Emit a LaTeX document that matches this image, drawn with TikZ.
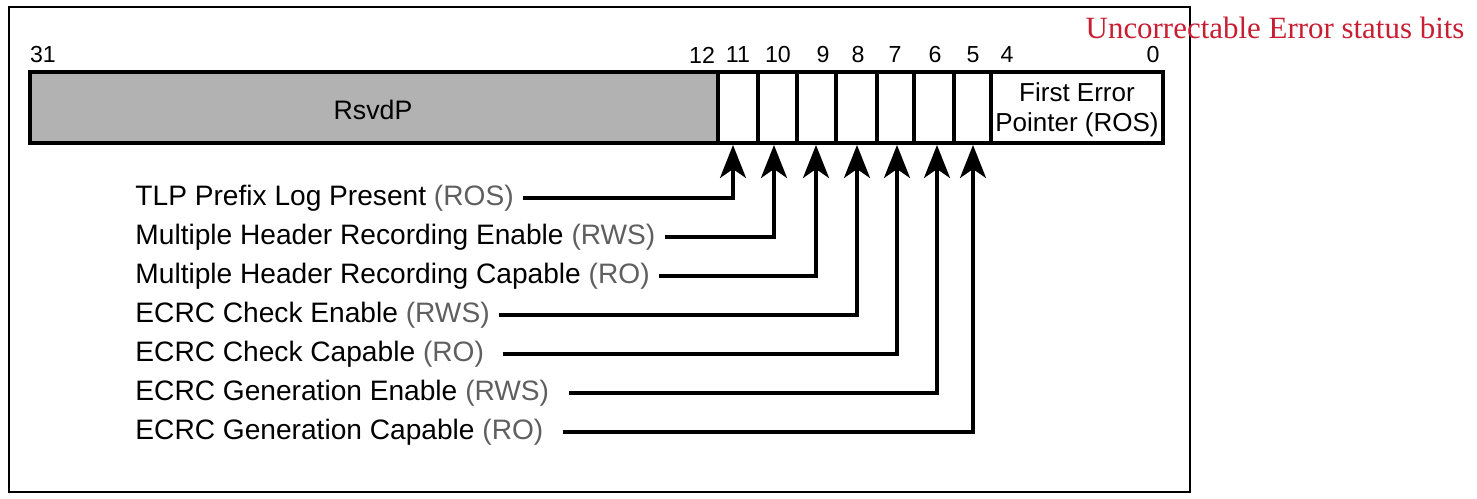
\documentclass[tikz,border=0pt]{standalone}
\usepackage{fontspec}
\setmainfont{Liberation Sans}
\newfontfamily\titlefont{Liberation Serif}
\usetikzlibrary{arrows.meta,positioning}
\definecolor{accgray}{RGB}{95,95,95}
\definecolor{titlered}{RGB}{200,30,50}
\definecolor{rsvdgray}{RGB}{178,178,178}
\tikzset{
	bitnum/.style={font=\fontsize{6.6}{7}\selectfont, inner sep=0pt},
	fieldlabel/.style={anchor=west, font=\fontsize{8}{9}\selectfont, inner sep=2.5pt},
	pointer/.style={line width=0.95pt, -{Stealth[length=3.3mm,width=2.6mm,inset=0.9mm]}},
}
\newcommand{\acc}[1]{\textcolor{accgray}{#1}}

\begin{document}
\begin{tikzpicture}
	\useasboundingbox (0,0) rectangle (14.77,4.98);
	\draw[line width=0.4pt] (0.09,0.06) rectangle (11.90,4.91);

	% Register: reserved field, single bits and pointer field
	\fill[rsvdgray] (0.30,3.55) rectangle (7.18,4.26);
	\draw[line width=1.15pt] (0.30,3.55) rectangle (11.63,4.26);
	\draw[line width=1pt] (7.18,3.55) -- (7.18,4.26);
	\draw[line width=1pt] (7.58,3.55) -- (7.58,4.26);
	\draw[line width=1pt] (7.97,3.55) -- (7.97,4.26);
	\draw[line width=1pt] (8.36,3.55) -- (8.36,4.26);
	\draw[line width=1pt] (8.77,3.55) -- (8.77,4.26);
	\draw[line width=1pt] (9.14,3.55) -- (9.14,4.26);
	\draw[line width=1pt] (9.54,3.55) -- (9.54,4.26);
	\draw[line width=1pt] (9.91,3.55) -- (9.91,4.26);
	\node[font=\fontsize{7.6}{8}\selectfont] (rsvdp) at (3.73,3.88) {RsvdP};
	\node[align=center, font=\fontsize{7.4}{8.5}\selectfont, inner sep=0pt] (fep) at (10.77,3.88) {First Error\\Pointer (ROS)};

	% Bit numbers above the register
	\node[bitnum] (n31) at (0.43,4.43) {31};
	\node[bitnum] (n12) at (7.02,4.43) {12};
	\node[bitnum] (n11) at (7.38,4.43) {11};
	\node[bitnum] (n10) at (7.78,4.43) {10};
	\node[bitnum] (n9) at (8.23,4.43) {9};
	\node[bitnum] (n8) at (8.58,4.43) {8};
	\node[bitnum] (n7) at (8.95,4.43) {7};
	\node[bitnum] (n6) at (9.35,4.43) {6};
	\node[bitnum] (n5) at (9.73,4.43) {5};
	\node[bitnum] (n4) at (10.07,4.43) {4};
	\node[bitnum] (n0) at (11.53,4.43) {0};

	\node[anchor=base west, text=titlered, font=\titlefont\fontsize{8.8}{10}\selectfont, inner sep=0pt] (title) at (10.85,4.60) {Uncorrectable Error status bits};

	% Arrow targets under the single bits
	\coordinate (b11) at (7.33,3.53);
	\coordinate (b10) at (7.74,3.53);
	\coordinate (b9) at (8.16,3.53);
	\coordinate (b8) at (8.57,3.53);
	\coordinate (b7) at (8.97,3.53);
	\coordinate (b6) at (9.37,3.53);
	\coordinate (b5) at (9.73,3.53);

	% Field names with their pointers
	\node[fieldlabel] (tlp) at (1.26,3.00) {TLP Prefix Log Present \acc{(ROS)}};
	\node[fieldlabel] (mhre) at (1.26,2.61) {Multiple Header Recording Enable \acc{(RWS)}};
	\node[fieldlabel] (mhrc) at (1.26,2.22) {Multiple Header Recording Capable \acc{(RO)}};
	\node[fieldlabel] (ece) at (1.26,1.83) {ECRC Check Enable \acc{(RWS)}};
	\node[fieldlabel] (ecc) at (1.26,1.44) {ECRC Check Capable \acc{(RO)}};
	\node[fieldlabel] (ege) at (1.26,1.05) {ECRC Generation Enable \acc{(RWS)}};
	\node[fieldlabel] (egc) at (1.26,0.66) {ECRC Generation Capable \acc{(RO)}};

	\draw[pointer] (tlp.east) -| (b11);
	\draw[pointer] (mhre.east) -| (b10);
	\draw[pointer] (mhrc.east) -| (b9);
	\draw[pointer] (ece.east) -| (b8);
	\draw[pointer] ([xshift=0.1cm]ecc.east) -| (b7);
	\draw[pointer] ([xshift=0.1cm]ege.east) -| (b6);
	\draw[pointer] ([xshift=0.1cm]egc.east) -| (b5);
\end{tikzpicture}
\end{document}
